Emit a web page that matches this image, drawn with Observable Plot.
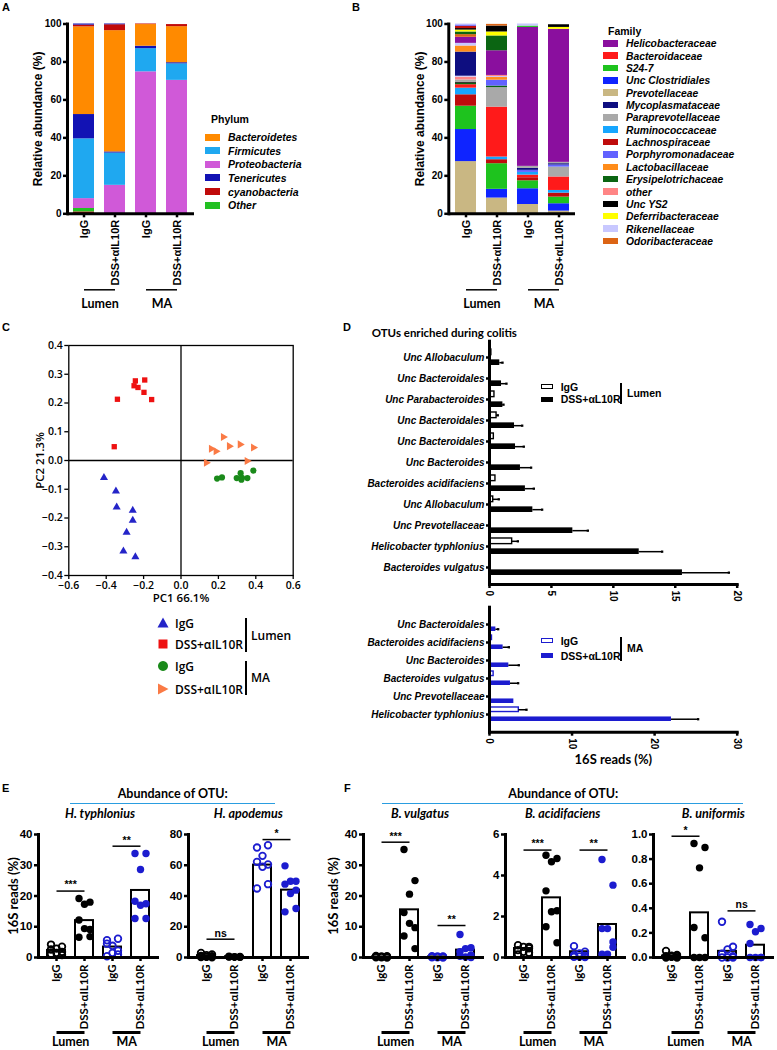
<!DOCTYPE html>
<html><head><meta charset="utf-8">
<script src="https://cdn.jsdelivr.net/npm/d3@7"></script>
<script src="https://cdn.jsdelivr.net/npm/@observablehq/plot@0.6"></script>
<style>
body{margin:0;background:#fff;}
#fig{position:relative;width:777px;height:1050px;overflow:hidden;background:#fff;}
#fig svg{overflow:visible;}
</style></head><body><div id="fig"></div>
<script>
// ---------------- DATA ----------------
const groups = ["IgG|Lumen", "DSS|Lumen", "IgG|MA", "DSS|MA"];
const groupTick = {"IgG|Lumen": "IgG", "DSS|Lumen": "DSS+αIL10R", "IgG|MA": "IgG", "DSS|MA": "DSS+αIL10R"};
const siteLabels = ["Lumen", "MA"];

// A: phylum (segments listed bottom -> top)
const phyla = ["Bacteroidetes", "Firmicutes", "Proteobacteria", "Tenericutes", "cyanobacteria", "Other"];
const phylumColors = ["#ff8a00", "#1fa8f0", "#d059d8", "#1212b4", "#c00a0a", "#22c022"];
const phylumIgGLumen = [["cyanobacteria", 1], ["Other", 1.8], ["Proteobacteria", 5.2], ["Firmicutes", 31.5], ["Tenericutes", 12.8], ["Bacteroidetes", 46.2], ["cyanobacteria", 0.9], ["Tenericutes", 0.6]];
const phylumDSSLumen = [["Proteobacteria", 15], ["Firmicutes", 17], ["Tenericutes", 0.6], ["Bacteroidetes", 63.9], ["cyanobacteria", 3.1], ["Tenericutes", 0.4]];
const phylumIgGMA = [["Proteobacteria", 74.8], ["Firmicutes", 12.2], ["Tenericutes", 1.3], ["Bacteroidetes", 11.4], ["cyanobacteria", 0.3]];
const phylumDSSMA = [["Proteobacteria", 70.3], ["Firmicutes", 8.7], ["Tenericutes", 0.6], ["Bacteroidetes", 19.0], ["cyanobacteria", 1.1]];

// B: family (segments listed bottom -> top)
const families = ["Helicobacteraceae", "Bacteroidaceae", "S24-7", "Unc Clostridiales", "Prevotellaceae", "Mycoplasmataceae", "Paraprevotellaceae", "Ruminococcaceae", "Lachnospiraceae", "Porphyromonadaceae", "Lactobacillaceae", "Erysipelotrichaceae", "other", "Unc YS2", "Deferribacteraceae", "Rikenellaceae", "Odoribacteraceae"];
const familyColors = ["#8a0f9e", "#ff1a1a", "#1ec31e", "#0f24ff", "#c9b783", "#0e0e80", "#a9a9a9", "#16a6ff", "#bf0c0c", "#6262ff", "#ff8c1a", "#0b6512", "#ff8585", "#000000", "#ffff00", "#c8c8ff", "#dc6414"];
const familyIgGLumen = [["Prevotellaceae", 27.5], ["Unc Clostridiales", 16.9], ["S24-7", 12.3], ["Lachnospiraceae", 6.0], ["Ruminococcaceae", 3.5], ["Bacteroidaceae", 1.8], ["Erysipelotrichaceae", 0.8], ["Unc YS2", 0.5], ["Paraprevotellaceae", 1.2], ["other", 1.5], ["Rikenellaceae", 0.5], ["Mycoplasmataceae", 12.7], ["Lactobacillaceae", 3.2], ["Rikenellaceae", 1.4], ["Helicobacteraceae", 3.2], ["Odoribacteraceae", 1.4], ["Erysipelotrichaceae", 1.4], ["Deferribacteraceae", 1.0], ["Unc YS2", 0.8], ["Lachnospiraceae", 1.2], ["Porphyromonadaceae", 0.7], ["Rikenellaceae", 0.5]];
const familyDSSLumen = [["Prevotellaceae", 8.3], ["Unc Clostridiales", 4.6], ["S24-7", 13.5], ["Lachnospiraceae", 2.1], ["Ruminococcaceae", 1.4], ["Bacteroidaceae", 26.3], ["Paraprevotellaceae", 10.3], ["Erysipelotrichaceae", 0.8], ["Porphyromonadaceae", 3.1], ["Lactobacillaceae", 1.4], ["Rikenellaceae", 0.5], ["other", 0.6], ["Helicobacteraceae", 13.0], ["Erysipelotrichaceae", 7.8], ["Deferribacteraceae", 2.1], ["Unc YS2", 3.1], ["Odoribacteraceae", 0.9]];
const familyIgGMA = [["Prevotellaceae", 4.9], ["Unc Clostridiales", 8.3], ["S24-7", 4.2], ["Lachnospiraceae", 1.6], ["Bacteroidaceae", 1.4], ["Ruminococcaceae", 1.4], ["Porphyromonadaceae", 1.1], ["Mycoplasmataceae", 1.0], ["Paraprevotellaceae", 1.1], ["Helicobacteraceae", 73.2], ["S24-7", 0.7], ["Rikenellaceae", 1.1]];
const familyDSSMA = [["Prevotellaceae", 1.4], ["Unc Clostridiales", 3.9], ["S24-7", 3.5], ["Lachnospiraceae", 2.1], ["Ruminococcaceae", 1.4], ["Bacteroidaceae", 7.1], ["Paraprevotellaceae", 5.2], ["Porphyromonadaceae", 1.1], ["Mycoplasmataceae", 0.7], ["Paraprevotellaceae", 0.7], ["Helicobacteraceae", 70.1], ["Deferribacteraceae", 1.0], ["Unc YS2", 1.4]];

// C: PCoA
const cXTicks = [-0.6, -0.4, -0.2, 0, 0.2, 0.4, 0.6];
const cYTicks = [-0.4, -0.3, -0.2, -0.1, 0, 0.1, 0.2, 0.3, 0.4];
const pcIgGLumenX = [-0.412, -0.348, -0.344, -0.258, -0.258, -0.291, -0.308, -0.244];
const pcIgGLumenY = [-0.060, -0.107, -0.162, -0.174, -0.208, -0.250, -0.315, -0.335];
const pcDSSLumenX = [-0.244, -0.194, -0.251, -0.230, -0.198, -0.157, -0.340, -0.357];
const pcDSSLumenY = [0.277, 0.280, 0.260, 0.254, 0.237, 0.212, 0.213, 0.048];
const pcIgGMAX = [0.193, 0.219, 0.298, 0.319, 0.326, 0.323, 0.355, 0.387];
const pcIgGMAY = [-0.063, -0.059, -0.061, -0.044, -0.060, -0.067, -0.061, -0.035];
const pcDSSMAX = [0.226, 0.162, 0.187, 0.258, 0.316, 0.387, 0.135, 0.353];
const pcDSSMAY = [0.082, 0.041, 0.032, 0.050, 0.056, 0.045, -0.008, -0.002];

// D: OTUs enriched during colitis
const dLumenLabels = ["Unc Allobaculum", "Unc Bacteroidales", "Unc Parabacteroides", "Unc Bacteroidales", "Unc Bacteroidales", "Unc Bacteroides", "Bacteroides acidifaciens", "Unc Allobaculum", "Unc Prevotellaceae", "Helicobacter typhlonius", "Bacteroides vulgatus"];
const dLumenIgG = [0.15, 0.1, 0.4, 0.57, 0.35, 0.1, 0.48, 0.3, 0.1, 1.83, 0.05];
const dLumenIgGErr = [0, 0, 0, 0.1, 0, 0, 0, 0.45, 0, 0.46, 0];
const dLumenDSS = [0.83, 0.97, 1.08, 2.02, 2.1, 2.5, 2.9, 3.5, 6.73, 12.09, 15.58];
const dLumenDSSErr = [0.22, 0.4, 0.05, 0.62, 0.67, 0.86, 0.68, 0.75, 1.21, 1.85, 3.75];
const dLumenTicks = [0, 5, 10, 15, 20];
const dMALabels = ["Unc Bacteroidales", "Bacteroides acidifaciens", "Unc Bacteroides", "Bacteroides vulgatus", "Unc Prevotellaceae", "Helicobacter typhlonius"];
const dMAIgG = [0.05, 0.3, 0.05, 0.5, 0.05, 3.55];
const dMAIgGErr = [0, 0, 0, 0, 0, 0.93];
const dMADSS = [0.77, 1.65, 2.34, 2.54, 2.95, 22.04];
const dMADSSErr = [0.28, 0.69, 1.21, 0.93, 0, 3.23];
const dMATicks = [0, 10, 20, 30];

// E/F: abundance of OTU (per group: IgG Lumen, DSS Lumen, IgG MA, DSS MA)
const jitter = [-1, 1, 0, -1, 1, 0, -1, 1];
const hTyphVals = [[4.2, 3.5, 2.9, 2.6, 1.8, 1.5, 1.1, 0.8], [19.2, 18.0, 17.3, 12.2, 9.1, 9.4, 6.6, 6.8], [5.6, 6.1, 3.8, 4.5, 2.2, 1.5, 0.4, 1.0], [33.8, 33.8, 28.6, 18.3, 17.5, 17.0, 12.7, 12.7]];
const hTyphMeans = [2.3, 12.0, 3.4, 21.8];
const hTyphSig = [["IgG|Lumen", "DSS|Lumen", 21.6, "***"], ["IgG|MA", "DSS|MA", 36.2, "**"]];
const hApoVals = [[3.0, 2.0, 1.5, 1.0, 0.8, 0.5, 0.3, 0.2], [0.8, 0.6, 0.5, 0.5, 0.4, 0.3, 0.3, 0.2], [71.5, 73, 66.1, 62.2, 60.5, 59, 44.9, 47.7], [59.6, 49.6, 49.6, 47.7, 43.8, 41.6, 29.7, 31.9]];
const hApoMeans = [1.2, 0.5, 60.1, 43.8];
const hApoSig = [["IgG|Lumen", "DSS|Lumen", 11.9, "ns"], ["IgG|MA", "DSS|MA", 76.7, "*"]];
const bVulVals = [[0.5, 0.4, 0.3, 0.2, 0.2, 0.1, 0.1, 0], [35.1, 25.0, 20.6, 14.6, 9.7, 11.1, 7.0, 2.9], [0.4, 0.3, 0.3, 0.2, 0.2, 0.1, 0.1, 0], [7.5, 3.2, 2.9, 1.9, 0.8, 0.2, 0.4, 0]];
const bVulMeans = [0.2, 15.5, 0.2, 2.4];
const bVulSig = [["IgG|Lumen", "DSS|Lumen", 37.5, "***"], ["IgG|MA", "DSS|MA", 10.4, "**"]];
const bAciVals = [[0.6, 0.52, 0.52, 0.36, 0.23, 0.28, 0.15, 0.45], [4.99, 4.83, 4.67, 3.25, 2.28, 2.23, 1.5, 0.72], [0.55, 0.28, 0.2, 0.11, 0.07, 0.05, 0.03, 0.02], [4.78, 3.53, 1.41, 1.41, 0.76, 0.16, 0.16, 0.5]];
const bAciMeans = [0.44, 2.91, 0.28, 1.61];
const bAciSig = [["IgG|Lumen", "DSS|Lumen", 5.24, "***"], ["IgG|MA", "DSS|MA", 5.24, "**"]];
const bUniVals = [[0.054, 0.02, 0.015, 0.01, 0.01, 0.005, 0, 0], [0.927, 0.894, 0.729, 0.244, 0.16, 0, 0, 0], [0.29, 0.087, 0.065, 0.03, 0.01, 0, 0, 0], [0.268, 0.236, 0.209, 0.114, 0, 0, 0, 0]];
const bUniMeans = [0.012, 0.363, 0.05, 0.1];
const bUniSig = [["IgG|Lumen", "DSS|Lumen", 0.986, "*"], ["IgG|MA", "DSS|MA", 0.379, "ns"]];

// ---------------- STYLE ----------------
const ARIAL = "'Liberation Sans', Arial, sans-serif";
const CAL = "Lato, 'Open Sans', sans-serif";
const OS = "'Open Sans', sans-serif";
const BLUE = "#1c1ccf";

const fig = document.getElementById("fig");
function put(el, left, top) { el.style.position = "absolute"; el.style.left = left + "px"; el.style.top = top + "px"; fig.appendChild(el); return el; }
function label(text, x, y, css, align = "left") {
  const d = document.createElement("div");
  d.textContent = text;
  const tx = align === "center" ? "-50%" : align === "right" ? "-100%" : "0";
  d.style.cssText = `position:absolute;white-space:nowrap;line-height:1;left:${x}px;top:${y}px;transform:translate(${tx},-50%);` + css;
  fig.appendChild(d); return d;
}
function box(x, y, w, h, css) {
  const d = document.createElement("div");
  d.style.cssText = `position:absolute;left:${x}px;top:${y}px;width:${w}px;height:${h}px;box-sizing:border-box;` + css;
  fig.appendChild(d); return d;
}
const siteRows = [{g1: groups[0], g2: groups[1], label: siteLabels[0]}, {g1: groups[2], g2: groups[3], label: siteLabels[1]}];

// ---------------- A & B stacked bars ----------------
function stackRows(bars) {
  const rows = [];
  bars.forEach((segs, i) => segs.forEach(([name, v]) => rows.push({g: groups[i], name, v})));
  return rows;
}
function stackPlot({rows, names, colors, width, ml, mr}) {
  const step = (width - ml - mr) / (4 - 0.32 + 0.30);
  return Plot.plot({
    width, height: 310, marginLeft: ml, marginRight: mr, marginTop: 23.5, marginBottom: 96.7,
    x: {domain: groups, paddingInner: 0.32, paddingOuter: 0.15, label: null},
    y: {domain: [0, 100], label: null},
    color: {domain: names, range: colors},
    style: {fontFamily: ARIAL, fontWeight: "bold", fontSize: "10px", background: "transparent", overflow: "visible"},
    marks: [
      Plot.barY(rows, {x: "g", y: "v", fill: "name"}),
      Plot.axisY({ticks: [0, 20, 40, 60, 80, 100], tickSize: 4, tickPadding: 2, strokeWidth: 2.5, fontSize: 10}),
      Plot.axisX({tickFormat: g => groupTick[g], tickRotate: -90, tickSize: 4, tickPadding: 2, strokeWidth: 2.5, fontSize: 11}),
      Plot.ruleY([0], {strokeWidth: 3}),
      Plot.frame({anchor: "left", strokeWidth: 3}),
      Plot.text(["Relative abundance (%)"], {frameAnchor: "left", dx: -29, rotate: -90, textAnchor: "middle", lineAnchor: "middle", fontSize: 12}),
      Plot.link(siteRows, {x1: "g1", x2: "g2", y1: () => 0, y2: () => 0, dy: 76, strokeWidth: 1.5}),
      Plot.text(siteRows, {x: "g1", y: () => 0, text: "label", dx: step / 2, dy: 90, fontFamily: CAL, fontSize: 12.5})
    ]
  });
}
put(stackPlot({rows: stackRows([phylumIgGLumen, phylumDSSLumen, phylumIgGMA, phylumDSSMA]), names: phyla, colors: phylumColors, width: 200, ml: 67, mr: 6}), 0, 0);
put(stackPlot({rows: stackRows([familyIgGLumen, familyDSSLumen, familyIgGMA, familyDSSMA]), names: families, colors: familyColors, width: 190, ml: 58.3, mr: 5}), 390, 0);

// legends A & B
label("A", 2, 7, `font:bold 11px ${ARIAL}`);
label("B", 352, 7, `font:bold 11px ${ARIAL}`);
label("Phylum", 211, 119, `font:bold 10.5px ${ARIAL}`);
phyla.forEach((p, i) => {
  const y = 137 + i * 13.65;
  box(205, y - 3.5, 15, 7, `background:${phylumColors[i]}`);
  label(p, 228, y, `font:italic bold 10.5px ${ARIAL}`);
});
label("Family", 608, 30.7, `font:bold 10.5px ${ARIAL}`);
families.forEach((f, i) => {
  const y = 43.3 + i * 12.35;
  box(603.3, y - 3.3, 14.4, 6.6, `background:${familyColors[i]}`);
  label(f, 626, y, `font:italic bold 10.3px ${ARIAL}`);
});

// ---------------- C PCoA ----------------
const sqrt3 = Math.sqrt(3);
const triRight = {draw(ctx, size) { const y = -Math.sqrt(size / (sqrt3 * 3)); ctx.moveTo(-2 * y, 0); ctx.lineTo(y, -sqrt3 * y); ctx.lineTo(y, sqrt3 * y); ctx.closePath(); }};
const zip = (xs, ys) => xs.map((x, i) => ({x, y: ys[i]}));
put(Plot.plot({
  width: 300, height: 272, marginLeft: 68.3, marginRight: 7.3, marginTop: 10, marginBottom: 32,
  x: {domain: [-0.6, 0.6], label: null}, y: {domain: [-0.4, 0.4], label: null},
  style: {fontFamily: OS, fontWeight: 600, fontSize: "10.5px", background: "transparent", overflow: "visible"},
  marks: [
    Plot.frame({strokeWidth: 1.3}),
    Plot.ruleX([0], {strokeWidth: 1.3}),
    Plot.ruleY([0], {strokeWidth: 1.3}),
    Plot.axisX({ticks: cXTicks, tickFormat: d3.format(".1f"), tickSize: 4, tickPadding: 2, strokeWidth: 1.3}),
    Plot.axisY({ticks: cYTicks, tickFormat: d3.format(".1f"), tickSize: 4, tickPadding: 2, strokeWidth: 1.3}),
    Plot.dot(zip(pcIgGLumenX, pcIgGLumenY), {x: "x", y: "y", symbol: "triangle", r: 3, fill: "#2424c8"}),
    Plot.dot(zip(pcDSSLumenX, pcDSSLumenY), {x: "x", y: "y", symbol: "square", r: 3, fill: "#ee1111"}),
    Plot.dot(zip(pcIgGMAX, pcIgGMAY), {x: "x", y: "y", symbol: "circle", r: 3.1, fill: "#1a8a1a"}),
    Plot.dot(zip(pcDSSMAX, pcDSSMAY), {x: "x", y: "y", symbol: triRight, r: 3, fill: "#fa7a45"}),
    Plot.text(["PC2 21.3%"], {frameAnchor: "left", dx: -28.3, rotate: -90, textAnchor: "middle", lineAnchor: "middle", fontSize: 11.5}),
    Plot.text(["PC1 66.1%"], {frameAnchor: "bottom", dy: 23, textAnchor: "middle", lineAnchor: "middle", fontSize: 11.5})
  ]
}), 0, 335);
label("C", 2, 327, `font:bold 11px ${ARIAL}`);
// C legend
function sym(shape, color, cx, cy) {
  const ns = "http://www.w3.org/2000/svg";
  const s = document.createElementNS(ns, "svg");
  s.setAttribute("width", 14); s.setAttribute("height", 14);
  s.style.cssText = `position:absolute;left:${cx - 7}px;top:${cy - 7}px;`;
  const p = document.createElementNS(ns, "path");
  const paths = {tri: "M7,1.5L12.5,11.5L1.5,11.5Z", sq: "M2.5,2.5H11.5V11.5H2.5Z", circ: "M7,2A5,5 0 1,0 7.01,2Z", triR: "M2,1.5L12.5,7L2,12.5Z"};
  p.setAttribute("d", paths[shape]); p.setAttribute("fill", color);
  s.appendChild(p); fig.appendChild(s);
}
const cLeg = [["tri", "#2424c8", "IgG", 623.3], ["sq", "#ee1111", "DSS+αIL10R", 644.3], ["circ", "#1a8a1a", "IgG", 666], ["triR", "#fa7a45", "DSS+αIL10R", 688.5]];
cLeg.forEach(([s, c, t, y]) => { sym(s, c, 163, y); label(t, 175, y, `font:600 12px ${OS}`); });
box(244.5, 618, 2.5, 34, "background:#000");
label("Lumen", 251, 635, `font:600 12px ${OS}`);
box(244.5, 661, 2.5, 34, "background:#000");
label("MA", 251, 677, `font:600 12px ${OS}`);

// ---------------- D horizontal bars ----------------
function dPlot({labels, igg, iggErr, dss, dssErr, ticks, xMax, color, top, frameTop, frameBottom, pi, po, barH, mb, axisTitle}) {
  const ids = labels.map((_, i) => String(i));
  const rows = ids.map((id, i) => ({id, igg: igg[i], iggErr: iggErr[i], dss: dss[i], dssErr: dssErr[i]}));
  const step = (frameBottom - frameTop) / (ids.length - pi + 2 * po);
  const bw = step * (1 - pi);
  const inset = bw - barH;
  const off = bw / 2 - barH / 2;
  const mt = frameTop - top;
  const eIgg = rows.filter(d => d.iggErr > 0), eDss = rows.filter(d => d.dssErr > 0);
  const marks = [
    Plot.barX(rows, {y: "id", x: "igg", fill: "white", stroke: color, strokeWidth: 1.4, insetBottom: inset}),
    Plot.barX(rows, {y: "id", x: "dss", fill: color, insetTop: inset}),
    Plot.ruleY(eIgg, {y: "id", x1: "igg", x2: d => d.igg + d.iggErr, dy: -off, strokeWidth: 1.5}),
    Plot.ruleY(eDss, {y: "id", x1: "dss", x2: d => d.dss + d.dssErr, dy: off, strokeWidth: 1.5}),
    Plot.dot(eIgg, {y: "id", x: d => d.igg + d.iggErr, dy: -off, symbol: "square", r: 1.3, fill: "black"}),
    Plot.dot(eDss, {y: "id", x: d => d.dss + d.dssErr, dy: off, symbol: "square", r: 1.3, fill: "black"}),
    Plot.axisY({tickFormat: i => labels[+i], tickSize: 3, tickPadding: 2, strokeWidth: 2.5, fontStyle: "italic", fontSize: 10}),
    Plot.axisX({ticks, tickRotate: 90, tickSize: 4, tickPadding: 2, strokeWidth: 2.5, fontSize: 10}),
    Plot.frame({anchor: "left", strokeWidth: 3}),
    Plot.frame({anchor: "bottom", strokeWidth: 3})
  ];
  if (axisTitle) marks.push(Plot.text([axisTitle], {frameAnchor: "bottom", dy: 27.6, textAnchor: "middle", lineAnchor: "middle", fontFamily: CAL, fontSize: 13}));
  return Plot.plot({
    width: 396.7, height: frameBottom - top + mb, marginLeft: 139, marginRight: 10, marginTop: mt, marginBottom: mb,
    x: {domain: [0, xMax], label: null},
    y: {domain: ids, paddingInner: pi, paddingOuter: po, label: null},
    style: {fontFamily: ARIAL, fontWeight: "bold", fontSize: "10px", background: "transparent", overflow: "visible"},
    marks
  });
}
put(dPlot({labels: dLumenLabels, igg: dLumenIgG, iggErr: dLumenIgGErr, dss: dLumenDSS, dssErr: dLumenDSSErr, ticks: dLumenTicks, xMax: 20, color: "#000", top: 335, frameTop: 340.7, frameBottom: 584, pi: 0.23, po: 0.27, barH: 6.2, mb: 21}), 350, 335);
put(dPlot({labels: dMALabels, igg: dMAIgG, iggErr: dMAIgGErr, dss: dMADSS, dssErr: dMADSSErr, ticks: dMATicks, xMax: 30, color: BLUE, top: 601, frameTop: 606.7, frameBottom: 731.7, pi: 0.21, po: 0.405, barH: 5.5, mb: 38, axisTitle: "16S reads (%)"}), 350, 601);
label("D", 343, 327, `font:bold 11px ${ARIAL}`);
label("OTUs enriched during colitis", 371.7, 331.7, `font:bold 11.5px ${CAL}`);
// D legends
function dLegend(y1, y2, color, site) {
  box(540.7, y1 - 2.8, 12, 5.6, `border:1.4px solid ${color};background:#fff`);
  label("IgG", 560.7, y1, `font:bold 10.5px ${ARIAL}`);
  box(540.7, y2 - 2.8, 12, 5.6, `background:${color}`);
  label("DSS+αL10R", 560.7, y2, `font:bold 10.5px ${ARIAL}`);
  box(620, y1 - 4, 2, y2 - y1 + 9, "background:#000");
  label(site, 627, (y1 + y2) / 2, `font:bold 10.5px ${ARIAL}`);
}
dLegend(386.7, 399.3, "#000", "Lumen");
dLegend(640.7, 655.7, BLUE, "MA");

// ---------------- E & F dot plots ----------------
const EF_W = 121, EF_ML = 34, EF_MR = 4, EF_MT = 10, EF_PLOT = 123, EF_MB = 92.7;
function efPlot({vals, means, sig, ticks, fmt, yMax, left, ytitleDx}) {
  const step = EF_W / (4 - 0.353 + 2 * 0.318);
  const colors = ["#000", "#000", BLUE, BLUE];
  const rows = [];
  vals.forEach((vs, gi) => vs.forEach((v, k) => rows.push({g: groups[gi], v, j: jitter[k], c: colors[gi], open: gi % 2 === 0})));
  const bars = groups.map((g, i) => ({g, m: means[i]}));
  const sigRows = sig.map(([g1, g2, y, t]) => ({g1, g2, y, t}));
  const marks = [
    Plot.barY(bars, {x: "g", y: "m", fill: "white", stroke: "black", strokeWidth: 2}),
  ];
  for (const jv of [-1, 0, 1]) {
    const sub = rows.filter(r => r.j === jv);
    marks.push(Plot.dot(sub.filter(r => r.open), {x: "g", y: "v", dx: jv * 5.5, r: 3.3, fill: "none", stroke: "c", strokeWidth: 1.8}));
    marks.push(Plot.dot(sub.filter(r => !r.open), {x: "g", y: "v", dx: jv * 5.5, r: 3.7, fill: "c"}));
  }
  marks.push(
    Plot.link(sigRows, {x1: "g1", x2: "g2", y1: "y", y2: "y", strokeWidth: 1.5}),
    Plot.text(sigRows, {x: "g1", y: "y", text: "t", dx: step / 2, dy: -6, fontSize: 10.5, fontFamily: ARIAL}),
    Plot.axisY({ticks, tickFormat: fmt, tickSize: 4, tickPadding: 2, strokeWidth: 2.5, fontSize: 11.5}),
    Plot.axisX({tickFormat: g => groupTick[g], tickRotate: -90, tickSize: 4, tickPadding: 3, strokeWidth: 2.5, fontSize: 11.5, fontFamily: CAL}),
    Plot.ruleY([0], {strokeWidth: 3}),
    Plot.frame({anchor: "left", strokeWidth: 3}),
    Plot.link(siteRows, {x1: "g1", x2: "g2", y1: () => 0, y2: () => 0, dy: 75, strokeWidth: 3}),
    Plot.text(siteRows, {x: "g1", y: () => 0, text: "label", dx: step / 2, dy: 85, fontFamily: CAL, fontSize: 12.5})
  );
  if (ytitleDx) marks.push(Plot.text(["16S reads (%)"], {frameAnchor: "left", dx: ytitleDx, rotate: -90, textAnchor: "middle", lineAnchor: "middle", fontFamily: CAL, fontSize: 13}));
  const svg = Plot.plot({
    width: EF_ML + EF_W + EF_MR, height: EF_MT + EF_PLOT + EF_MB, marginLeft: EF_ML, marginRight: EF_MR, marginTop: EF_MT, marginBottom: EF_MB,
    x: {domain: groups, paddingInner: 0.353, paddingOuter: 0.318, label: null},
    y: {domain: [0, yMax], label: null},
    style: {fontFamily: ARIAL, fontWeight: "bold", fontSize: "11px", background: "transparent", overflow: "visible"},
    marks
  });
  put(svg, left - EF_ML, 834.3 - EF_MT);
}
const f0 = d3.format("d"), f1 = d3.format(".1f");
efPlot({vals: hTyphVals, means: hTyphMeans, sig: hTyphSig, ticks: [0, 10, 20, 30, 40], fmt: f0, yMax: 40, left: 38.3, ytitleDx: -25});
efPlot({vals: hApoVals, means: hApoMeans, sig: hApoSig, ticks: [0, 20, 40, 60, 80], fmt: f0, yMax: 80, left: 188.3});
efPlot({vals: bVulVals, means: bVulMeans, sig: bVulSig, ticks: [0, 10, 20, 30, 40], fmt: f0, yMax: 40, left: 363.3, ytitleDx: -30});
efPlot({vals: bAciVals, means: bAciMeans, sig: bAciSig, ticks: [0, 2, 4, 6], fmt: f0, yMax: 6, left: 505});
efPlot({vals: bUniVals, means: bUniMeans, sig: bUniSig, ticks: [0, 0.2, 0.4, 0.6, 0.8, 1.0], fmt: f1, yMax: 1, left: 653.3});

label("E", 2, 788, `font:bold 11px ${ARIAL}`);
label("F", 344, 788, `font:bold 11px ${ARIAL}`);
label("Abundance of OTU:", 172.7, 792.7, `font:bold 12.5px ${CAL}`, "center");
label("Abundance of OTU:", 563.3, 792.7, `font:bold 12.5px ${CAL}`, "center");
box(70, 802.7, 205, 1.3, "background:#2a9de0");
box(381.7, 802.7, 361.6, 1.3, "background:#2a9de0");
[["H. typhlonius", 100], ["H. apodemus", 248.3], ["B. vulgatus", 420], ["B. acidifaciens", 562.7], ["B. uniformis", 713.3]].forEach(([t, x]) =>
  label(t, x, 813.3, `font:italic bold 12.5px ${CAL}`, "center"));
</script></body></html>
